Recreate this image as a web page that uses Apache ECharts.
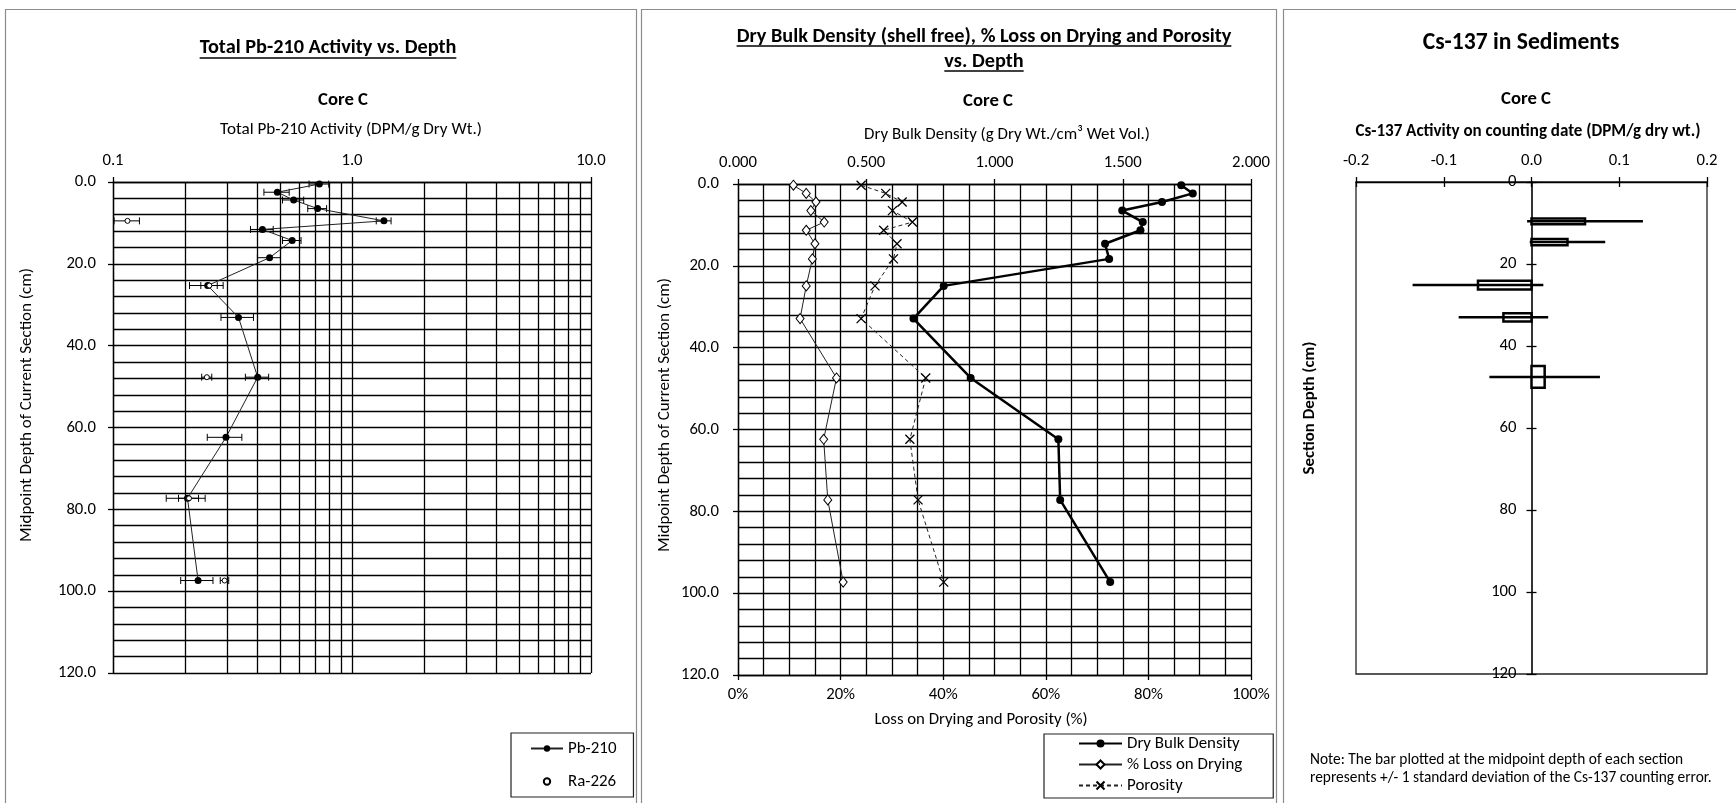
<!DOCTYPE html>
<html><head><meta charset="utf-8">
<script src="https://cdn.jsdelivr.net/npm/echarts@6/dist/echarts.min.js"></script>
<style>html,body{margin:0;padding:0;background:#fff}#c{width:1736px;height:803px}</style>
</head><body><div id="c"></div>
<script>
// ---------- Panel 1: Total Pb-210 / Ra-226 ----------
const pbDepth = [0.5, 2.5, 4.4, 6.5, 9.5, 11.6, 14.3, 18.5, 25.3, 33.1, 47.7, 62.4, 77.3, 97.4];
const pbValue = [0.73, 0.487, 0.57, 0.718, 1.36, 0.422, 0.562, 0.452, 0.249, 0.335, 0.403, 0.297, 0.205, 0.227];
const pbSd    = [0.069, 0.059, 0.058, 0.065, 0.097, 0.046, 0.05, 0.05, 0.04, 0.052, 0.045, 0.049, 0.038, 0.035];
const raDepth = [9.5, 25.3, 47.7, 77.3, 97.4];
const raValue = [0.115, 0.253, 0.247, 0.208, 0.293];
const raSd    = [0.014, 0.02, 0.012, 0.02, 0.012];
const logGridValues = [0.2, 0.3, 0.4, 0.5, 0.6, 0.7, 0.8, 0.9, 2, 3, 4, 5, 6, 7, 8, 9];

// ---------- Panel 2: Dry bulk density, LOD, porosity ----------
const coreDepth      = [0.3, 2.3, 4.4, 6.5, 9.3, 11.3, 14.6, 18.3, 24.9, 32.9, 47.4, 62.4, 77.2, 97.3];
const dryBulkDensity = [1.728, 1.773, 1.653, 1.498, 1.578, 1.569, 1.431, 1.447, 0.802, 0.684, 0.907, 1.249, 1.256, 1.451];
const lossOnDrying   = [10.8, 13.3, 15.2, 14.2, 16.8, 13.3, 15.0, 14.5, 13.3, 12.1, 19.2, 16.7, 17.5, 20.5];
const porosity       = [24.0, 28.8, 32.0, 30.1, 34.0, 28.4, 31.0, 30.3, 26.7, 24.0, 36.6, 33.5, 35.1, 40.1];

// ---------- Panel 3: Cs-137 ----------
const csTop    = [8.9, 13.9, 24.1, 32.0, 44.9];
const csBottom = [10.3, 15.4, 26.2, 34.0, 50.2];
const csValue  = [0.061, 0.041, -0.061, -0.032, 0.015];
const csSd     = [0.066, 0.043, 0.0745, 0.051, 0.063];

const FONT = 'Carlito, Lato, sans-serif';
const BLACK = '#000';
const GRIDW = 1.3;

const _ctx = document.createElement('canvas').getContext('2d');
function measure(text, font) { _ctx.font = font; return _ctx.measureText(text).width; }
// font size (px) that makes `text` about `targetW` px wide
function fitSize(text, targetW, bold) {
  const w = measure(text, (bold ? 'bold ' : '') + '20px ' + FONT);
  return Math.round(20 * targetW / w * 10) / 10;
}
function txt(text, x, y, size, bold, opts) {
  opts = opts || {};
  return { type: 'text', x: x, y: y, rotation: opts.rot || 0, z: 20,
    style: { text: text, font: (bold ? 'bold ' : '') + size + 'px ' + FONT, fill: BLACK,
             align: opts.align || 'center', verticalAlign: 'middle' } };
}
function uline(text, cx, y, size) {
  const w = measure(text, 'bold ' + size + 'px ' + FONT);
  return { type: 'line', z: 20, shape: { x1: cx - w / 2, y1: y, x2: cx + w / 2, y2: y },
    style: { stroke: BLACK, lineWidth: 1.3 } };
}
function panelRect(x, y, w, h) {
  return { type: 'rect', z: 0, shape: { x: x, y: y, width: w, height: h },
    style: { fill: 'none', stroke: '#8c8c8c', lineWidth: 1.2 } };
}

// text sizes fitted to the widths seen in the reference
const T1 = 'Total Pb-210 Activity vs. Depth';
const T2a = 'Dry Bulk Density (shell free), % Loss on Drying and Porosity';
const T3 = 'Cs-137 in Sediments';
const YT = 'Midpoint Depth of Current Section (cm)';
const FS_T1 = fitSize(T1, 257, true);
const FS_T2 = fitSize(T2a, 494, true);
const FS_T3 = fitSize(T3, 197, true);
const FS_CORE = fitSize('Core C', 50, true);
const FS_AX1 = fitSize('Total Pb-210 Activity (DPM/g Dry Wt.)', 262, false);
const FS_AX2 = fitSize('Dry Bulk Density (g Dry Wt./cm\u00B3 Wet Vol.)', 286, false);
const FS_AX2B = fitSize('Loss on Drying and Porosity (%)', 213, false);
const FS_YT = fitSize(YT, 274, false);
const FS_AX3 = fitSize('Cs-137 Activity on counting date (DPM/g dry wt.)', 345, true);
const FS_YT3 = fitSize('Section Depth (cm)', 133, true);
const FS_NOTE = fitSize('represents +/- 1 standard deviation of the Cs-137 counting error.', 401, false);
const TICKFS = fitSize('120.0', 38, false);
const LEGFS = fitSize('% Loss on Drying', 115, false);

const labelStyle = { color: BLACK, fontSize: TICKFS, fontFamily: FONT };
const axisLineStyle = { show: true, onZero: false, lineStyle: { color: BLACK, width: GRIDW } };
const tickOut = { show: true, length: 5, lineStyle: { color: BLACK, width: GRIDW } };
const tickIn = { show: true, inside: true, length: 5, lineStyle: { color: BLACK, width: GRIDW } };
const gridLine = { show: true, lineStyle: { color: BLACK, width: GRIDW, type: 'solid' } };

function depthAxis(gi, margin) {
  return { gridIndex: gi, type: 'value', inverse: true, min: 0, max: 120, interval: 20,
    axisLine: axisLineStyle, axisTick: tickOut,
    axisLabel: Object.assign({ margin: margin, formatter: v => v.toFixed(1) }, labelStyle),
    splitLine: gridLine, minorTick: { show: false, splitNumber: 5 }, minorSplitLine: gridLine };
}
function hiddenAxis(gi, min, max, inverse) {
  return { gridIndex: gi, type: 'value', show: false, min: min, max: max, inverse: !!inverse,
    axisLine: { onZero: false }, splitLine: { show: false } };
}

function errRender(capHalf, lw) {
  return function (params, api) {
    const lo = api.coord([api.value(0), api.value(2)]);
    const hi = api.coord([api.value(1), api.value(2)]);
    const st = { stroke: BLACK, lineWidth: lw };
    const ch = [{ type: 'line', shape: { x1: lo[0], y1: lo[1], x2: hi[0], y2: hi[1] }, style: st }];
    if (capHalf) {
      ch.push({ type: 'line', shape: { x1: lo[0], y1: lo[1] - capHalf, x2: lo[0], y2: lo[1] + capHalf }, style: st });
      ch.push({ type: 'line', shape: { x1: hi[0], y1: hi[1] - capHalf, x2: hi[0], y2: hi[1] + capHalf }, style: st });
    }
    return { type: 'group', children: ch };
  };
}

const pbErrData = pbValue.map((v, i) => [v - pbSd[i], v + pbSd[i], pbDepth[i]]);
const raErrData = raValue.map((v, i) => [v - raSd[i], v + raSd[i], raDepth[i]]);
const csData = csValue.map((v, i) => [csTop[i], csBottom[i], v, csSd[i]]);

const xMark = 'path://M0,0L10,10M10,0L0,10';

// Cs-137 plot box, and its right half (which starts at activity 0)
const CS = { left: 1356, top: 182, width: 351, height: 492 };
const CS_HALF = { left: CS.left + CS.width / 2, top: CS.top, width: CS.width / 2, height: CS.height };

const option = {
  animation: false,
  backgroundColor: '#fff',
  grid: [
    { left: 113, top: 182, width: 478, height: 491, show: false },
    { left: 738, top: 184, width: 513, height: 491, show: false },
    Object.assign({ show: true, borderColor: '#222', borderWidth: 1.3 }, CS),
    Object.assign({ show: false }, CS),
    Object.assign({ show: false }, CS_HALF),
    Object.assign({ show: false }, CS_HALF)
  ],
  xAxis: [
    { gridIndex: 0, type: 'log', logBase: 10, min: 0.1, max: 10, position: 'top',
      axisLine: axisLineStyle, axisTick: tickOut,
      axisLabel: Object.assign({ margin: 13, formatter: v => Number(v).toFixed(1) }, labelStyle),
      splitLine: gridLine },
    { gridIndex: 1, type: 'value', min: 0, max: 2, interval: 0.5, position: 'top',
      axisLine: axisLineStyle, axisTick: tickOut,
      axisLabel: Object.assign({ margin: 13, formatter: v => v.toFixed(3) }, labelStyle),
      splitLine: gridLine, minorTick: { show: false, splitNumber: 5 }, minorSplitLine: gridLine },
    { gridIndex: 1, type: 'value', min: 0, max: 100, interval: 20, position: 'bottom',
      axisLine: axisLineStyle, axisTick: tickOut,
      axisLabel: Object.assign({ margin: 11, formatter: v => v + '%' }, labelStyle),
      splitLine: { show: false } },
    { gridIndex: 2, type: 'value', min: -0.2, max: 0.2, interval: 0.1, position: 'top',
      axisLine: axisLineStyle, axisTick: tickOut,
      axisLabel: Object.assign({ margin: 13, formatter: v => (Math.abs(v) < 1e-9 ? 0 : v).toFixed(1) }, labelStyle),
      splitLine: { show: false } },
    { gridIndex: 3, type: 'value', min: -0.2, max: 0.2, interval: 0.1, position: 'top',
      axisLine: { show: false, onZero: false }, axisTick: tickIn,
      axisLabel: { show: false }, splitLine: { show: false } },
    hiddenAxis(4, 0, 0.2),
    hiddenAxis(5, 0, 0.2)
  ],
  yAxis: [
    depthAxis(0, 17),
    depthAxis(1, 19),
    hiddenAxis(2, 0, 120, true),
    hiddenAxis(3, 0, 120, true),
    { gridIndex: 4, type: 'value', inverse: true, min: 0, max: 120, interval: 20, position: 'left',
      axisLine: { show: true, onZero: false, lineStyle: { color: BLACK, width: 1.6 } },
      axisTick: tickOut,
      axisLabel: Object.assign({ margin: 15 }, labelStyle), splitLine: { show: false } },
    { gridIndex: 5, type: 'value', inverse: true, min: 0, max: 120, interval: 20, position: 'left',
      axisLine: { show: false, onZero: false }, axisTick: tickIn,
      axisLabel: { show: false }, splitLine: { show: false } }
  ],
  legend: [
    { data: ['Pb-210', 'Ra-226'], orient: 'vertical', left: 511, top: 733, padding: [7, 17, 7, 19],
      itemGap: 16, itemWidth: 32, itemHeight: 8, selectedMode: false,
      textStyle: { fontSize: LEGFS, fontFamily: FONT, color: BLACK },
      borderColor: '#222', borderWidth: 1.2, backgroundColor: '#fff' },
    { data: ['Dry Bulk Density', '% Loss on Drying', 'Porosity'], orient: 'vertical', left: 1044, top: 734,
      padding: [1, 31, 4, 34], itemGap: 4, itemWidth: 43, itemHeight: 10, selectedMode: false,
      textStyle: { fontSize: LEGFS, fontFamily: FONT, color: BLACK },
      borderColor: '#222', borderWidth: 1.2, backgroundColor: '#fff' }
  ],
  series: [
    // log-axis intermediate grid lines
    { type: 'line', xAxisIndex: 0, yAxisIndex: 0, data: [], silent: true, z: 1,
      markLine: { silent: true, symbol: ['none', 'none'], label: { show: false },
        lineStyle: { color: BLACK, width: GRIDW, type: 'solid' },
        data: logGridValues.map(v => ({ xAxis: v })) } },
    { name: 'Pb-210 err', type: 'custom', xAxisIndex: 0, yAxisIndex: 0, z: 3,
      renderItem: errRender(3.5, 1), data: pbErrData, encode: { x: [0, 1], y: 2 } },
    { name: 'Ra-226 err', type: 'custom', xAxisIndex: 0, yAxisIndex: 0, z: 3,
      renderItem: errRender(3.5, 1), data: raErrData, encode: { x: [0, 1], y: 2 } },
    { name: 'Pb-210', type: 'line', xAxisIndex: 0, yAxisIndex: 0, z: 4,
      data: pbValue.map((v, i) => [v, pbDepth[i]]),
      symbol: 'circle', symbolSize: 7, showAllSymbol: true,
      itemStyle: { color: BLACK }, lineStyle: { color: '#222', width: 1 } },
    { name: 'Ra-226', type: 'line', xAxisIndex: 0, yAxisIndex: 0, z: 5,
      data: raValue.map((v, i) => [v, raDepth[i]]),
      symbol: 'circle', symbolSize: 5, showAllSymbol: true,
      itemStyle: { color: '#fff', borderColor: BLACK, borderWidth: 1 }, lineStyle: { width: 0 } },

    { name: 'Dry Bulk Density', type: 'line', xAxisIndex: 1, yAxisIndex: 1, z: 4,
      data: dryBulkDensity.map((v, i) => [v, coreDepth[i]]),
      symbol: 'circle', symbolSize: 8, showAllSymbol: true,
      itemStyle: { color: BLACK }, lineStyle: { color: BLACK, width: 2.5 } },
    { name: '% Loss on Drying', type: 'line', xAxisIndex: 2, yAxisIndex: 1, z: 4,
      data: lossOnDrying.map((v, i) => [v, coreDepth[i]]),
      symbol: 'diamond', symbolSize: [8, 10], showAllSymbol: true,
      itemStyle: { color: '#fff', borderColor: BLACK, borderWidth: 1 }, lineStyle: { color: '#222', width: 1 } },
    { name: 'Porosity', type: 'line', xAxisIndex: 2, yAxisIndex: 1, z: 4,
      data: porosity.map((v, i) => [v, coreDepth[i]]),
      symbol: xMark, symbolSize: 9, showAllSymbol: true,
      itemStyle: { color: 'none', borderColor: BLACK, borderWidth: 1.3 },
      lineStyle: { color: '#222', width: 1, type: [4, 3] } },

    { name: 'Cs-137', type: 'custom', xAxisIndex: 3, yAxisIndex: 2, z: 4,
      data: csData, encode: { x: [2], y: [0, 1] },
      renderItem: function (params, api) {
        const top = api.value(0), bot = api.value(1), v = api.value(2), sd = api.value(3);
        const p0 = api.coord([0, top]);
        const p1 = api.coord([v, bot]);
        const mid = (top + bot) / 2;
        const e0 = api.coord([v - sd, mid]);
        const e1 = api.coord([v + sd, mid]);
        return { type: 'group', children: [
          { type: 'rect', shape: { x: Math.min(p0[0], p1[0]), y: Math.min(p0[1], p1[1]),
              width: Math.abs(p1[0] - p0[0]), height: Math.abs(p1[1] - p0[1]) },
            style: { fill: '#fff', stroke: BLACK, lineWidth: 2.5 } },
          { type: 'line', shape: { x1: e0[0], y1: e0[1], x2: e1[0], y2: e1[1] },
            style: { stroke: BLACK, lineWidth: 2.5 } }
        ] };
      } }
  ],
  graphic: [
    panelRect(5.5, 9.5, 631, 820),
    panelRect(641.5, 9.5, 635, 820),
    panelRect(1283.5, 9.5, 480, 820),
    // panel 1 texts
    txt(T1, 328, 48, FS_T1, true), uline(T1, 328, 58, FS_T1),
    txt('Core C', 343, 100, FS_CORE, true),
    txt('Total Pb-210 Activity (DPM/g Dry Wt.)', 351, 130, FS_AX1, false),
    txt(YT, 27, 405, FS_YT, false, { rot: Math.PI / 2 }),
    // panel 2 texts
    txt(T2a, 984, 37, FS_T2, true), uline(T2a, 984, 46, FS_T2),
    txt('vs. Depth', 984, 62, FS_T2, true), uline('vs. Depth', 984, 71, FS_T2),
    txt('Core C', 988, 101, FS_CORE, true),
    txt('Dry Bulk Density (g Dry Wt./cm\u00B3 Wet Vol.)', 1007, 135, FS_AX2, false),
    txt('Loss on Drying and Porosity (%)', 981, 720, FS_AX2B, false),
    txt(YT, 665, 415, FS_YT, false, { rot: Math.PI / 2 }),
    // panel 3 texts
    txt(T3, 1521, 43, FS_T3, true),
    txt('Core C', 1526, 99, FS_CORE, true),
    txt('Cs-137 Activity on counting date (DPM/g dry wt.)', 1528, 132, FS_AX3, true),
    txt('Section Depth (cm)', 1310, 408, FS_YT3, true, { rot: Math.PI / 2 }),
    txt('Note: The bar plotted at the midpoint depth of each section', 1310, 760, FS_NOTE, false, { align: 'left' }),
    txt('represents +/- 1 standard deviation of the Cs-137 counting error.', 1310, 778, FS_NOTE, false, { align: 'left' })
  ]
};

const chart = echarts.init(document.getElementById('c'), null, { renderer: 'canvas', width: 1736, height: 803 });
chart.setOption(option);
</script>
</body></html>
